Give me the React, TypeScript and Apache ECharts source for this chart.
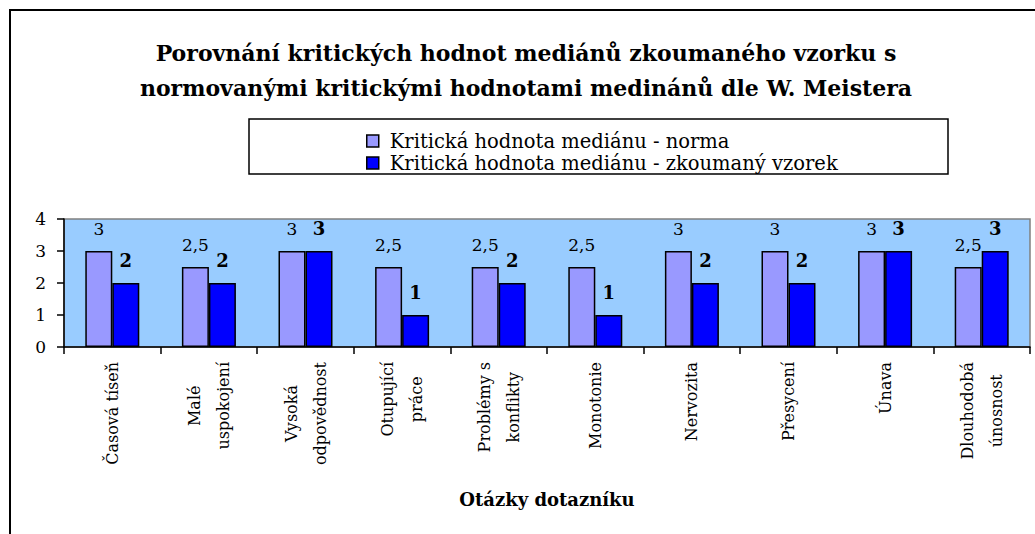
import React, { useEffect, useRef } from "react";
import * as echarts from "echarts";

const categories = [
  "Časová tíseň",
  "Malé\nuspokojení",
  "Vysoká\nodpovědnost",
  "Otupující\npráce",
  "Problémy s\nkonflikty",
  "Monotonie",
  "Nervozita",
  "Přesycení",
  "Únava",
  "Dlouhodobá\núnosnost",
];
const normaValues = [3, 2.5, 3, 2.5, 2.5, 2.5, 3, 3, 3, 2.5];
const vzorekValues = [2, 2, 3, 1, 2, 1, 2, 2, 3, 3];
const seriesNames = [
  "Kritická hodnota mediánu - norma",
  "Kritická hodnota mediánu - zkoumaný vzorek",
];
const yTicks = [0, 1, 2, 3, 4];
const titleText =
  "Porovnání kritických hodnot mediánů zkoumaného vzorku s\nnormovanými kritickými hodnotami medinánů dle W. Meistera";
const xAxisName = "Otázky dotazníku";

const FONT = "DejaVu Serif";

export default function App() {
  const ref = useRef<HTMLDivElement>(null);
  useEffect(() => {
    document.body.style.margin = "0";
    const chart = echarts.init(ref.current!, null, { renderer: "svg" });
    const fmt = (v: number) => String(v).replace(".", ",");
    chart.setOption({
      animation: false,
      backgroundColor: "#ffffff",
      textStyle: { fontFamily: FONT },
      graphic: [
        {
          type: "rect",
          z: -10,
          shape: { x: 10, y: 10, width: 1040, height: 540 },
          style: { fill: "none", stroke: "#000", lineWidth: 2 },
        },
        {
          type: "text",
          x: 526,
          y: 35,
          style: {
            text: titleText,
            fontFamily: FONT,
            fontSize: 22,
            fontWeight: "bold",
            lineHeight: 35,
            textAlign: "center",
            fill: "#000",
          },
        },
        {
          type: "rect",
          z: 0,
          shape: { x: 249, y: 119, width: 699, height: 55 },
          style: { fill: "#fff", stroke: "#000", lineWidth: 1.5 },
        },
      ],
      legend: {
        orient: "vertical",
        left: 366,
        top: 131,
        padding: 0,
        itemGap: 2,
        itemWidth: 12,
        itemHeight: 12,
        icon: "rect",
        itemStyle: { borderColor: "#000", borderWidth: 1.5 },
        textStyle: {
          fontFamily: FONT,
          fontSize: 19.5,
          lineHeight: 18,
          color: "#000",
          padding: [0, 0, 0, 6],
        },
        data: seriesNames,
      },
      grid: {
        left: 64,
        right: 5,
        top: 219,
        bottom: 187,
        show: true,
        backgroundColor: "#99CCFF",
        borderColor: "#808080",
        borderWidth: 1.5,
      },
      xAxis: {
        type: "category",
        data: categories,
        name: xAxisName,
        nameLocation: "middle",
        nameGap: 143,
        nameTextStyle: {
          fontFamily: FONT,
          fontSize: 18,
          fontWeight: "bold",
          color: "#000",
        },
        axisLine: { lineStyle: { color: "#000", width: 1.5 } },
        axisTick: { show: true, length: 7, lineStyle: { color: "#000", width: 1.5 } },
        axisLabel: {
          rotate: 90,
          margin: 15,
          interval: 0,
          color: "#000",
          fontFamily: FONT,
          fontSize: 16,
          lineHeight: 29,
          formatter: (v: string) =>
            v
              .split("\n")
              .map((l) => `{c|${l}}`)
              .join("\n"),
          rich: {
            c: {
              align: "center",
              fontFamily: FONT,
              fontSize: 16,
              lineHeight: 29,
              color: "#000",
            },
          },
        },
      },
      yAxis: {
        type: "value",
        min: yTicks[0],
        max: yTicks[yTicks.length - 1],
        interval: 1,
        splitLine: { show: false },
        axisLine: { show: true, lineStyle: { color: "#000", width: 1.5 } },
        axisTick: { show: true, length: 7, lineStyle: { color: "#000", width: 1.5 } },
        axisLabel: {
          margin: 18,
          color: "#000",
          fontFamily: FONT,
          fontSize: 17,
        },
      },
      series: [
        {
          name: seriesNames[0],
          type: "bar",
          data: normaValues,
          barWidth: 27,
          barGap: "0%",
          itemStyle: { color: "#9999FF", borderColor: "#000", borderWidth: 1.5 },
          label: {
            show: true,
            position: "top",
            distance: 14,
            color: "#000",
            fontFamily: FONT,
            fontSize: 17,
            formatter: (p: any) => fmt(p.value),
          },
        },
        {
          name: seriesNames[1],
          type: "bar",
          data: vzorekValues,
          barWidth: 27,
          barGap: "0%",
          itemStyle: { color: "#0000FF", borderColor: "#000", borderWidth: 1.5 },
          label: {
            show: true,
            position: "top",
            distance: 14,
            color: "#000",
            fontFamily: FONT,
            fontSize: 18,
            fontWeight: "bold",
            formatter: (p: any) => fmt(p.value),
          },
        },
      ],
    });
    return () => chart.dispose();
  }, []);
  return <div ref={ref} style={{ width: 1035, height: 534 }} />;
}
